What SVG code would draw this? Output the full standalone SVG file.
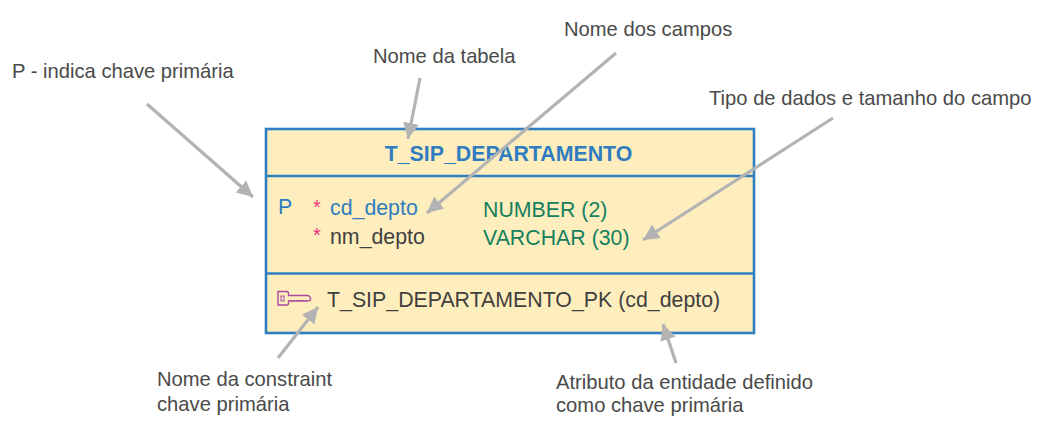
<svg xmlns="http://www.w3.org/2000/svg" width="1048" height="432" viewBox="0 0 1048 432">
<style>
text{font-family:"Liberation Sans",Arial,sans-serif;font-size:20.200px;fill:#4a4a4a}
.m{font-size:21.330px}
.b{fill:#2f7dc0}.g{fill:#14805e}.r{fill:#f0337f;font-size:20px}.d{fill:#3f3f3f}
.c{stroke:#b3b3b3;stroke-width:3.2;fill:none;marker-end:url(#a)}
.l{stroke:#2f7fc1;stroke-width:2.6;fill:none}
</style>
<defs><marker id="a" markerUnits="userSpaceOnUse" markerWidth="18" markerHeight="18" refX="16" refY="8" orient="auto"><path d="M0 0L16 8L0 16Z" fill="#b3b3b3"/></marker></defs>
<rect width="1048" height="432" fill="#fff"/>
<g id="table">
<rect x="266" y="129" width="488" height="204" fill="#ffeebd"/>
<rect x="266" y="129" width="488" height="204" class="l"/>
<path d="M266 176H754M266 273.500H754" class="l"/>
<text x="508.500" y="161" text-anchor="middle" class="b m" style="font-weight:bold">T_SIP_DEPARTAMENTO</text>
<text x="278" y="214" class="b m">P</text>
<text x="313" y="214" class="r">*</text>
<text x="330" y="215" class="b m">cd_depto</text>
<text x="313" y="242" class="r">*</text>
<text x="330" y="244" class="d m">nm_depto</text>
<text x="483" y="217" class="g m">NUMBER (2)</text>
<text x="483" y="245" class="g m">VARCHAR (30)</text>
<path d="M278 291.500h8.500q2 0 2 2v2h19q2 0 3 2.500t-3 3h-19v2q0 2-2 2h-8.500z" fill="none" stroke="#a84aa0" stroke-width="1.400"/>
<rect x="281" y="296" width="3" height="5" fill="none" stroke="#a84aa0"/>
<path d="M290 300.500h18" stroke="#a84aa0" stroke-dasharray="2 1"/>
<text x="327" y="307" class="d m">T_SIP_DEPARTAMENTO_PK (cd_depto)</text>
</g>
<g id="connectors">
<path class="c" d="M420 78L408 139"/>
<path class="c" d="M616 53L427 213"/>
<path class="c" d="M147 104L253 197"/>
<path class="c" d="M833 118L643 240"/>
<path class="c" d="M278 358L318 307"/>
<path class="c" d="M676 363L663 324"/>
</g>
<g id="labels">
<text x="12" y="78">P - indica chave primária</text>
<text x="373" y="63">Nome da tabela</text>
<text x="564" y="36">Nome dos campos</text>
<text x="709" y="105">Tipo de dados e tamanho do campo</text>
<text x="157" y="386">Nome da constraint</text>
<text x="157" y="411">chave primária</text>
<text x="556" y="389">Atributo da entidade definido</text>
<text x="556" y="412">como chave primária</text>
</g>
</svg>
